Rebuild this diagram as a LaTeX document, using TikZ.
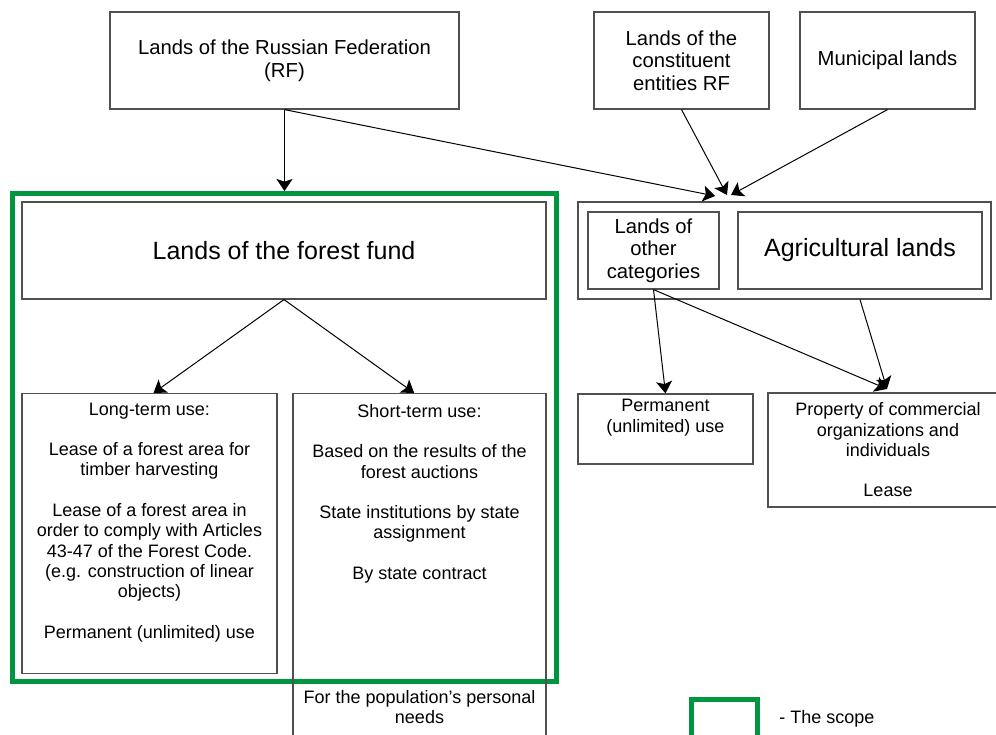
\documentclass[tikz,border=0pt]{standalone}
\usepackage{fontspec}
\setmainfont{Liberation Sans}
\usetikzlibrary{arrows.meta}
\definecolor{scopegreen}{RGB}{0,150,64}
\definecolor{boxgray}{RGB}{80,80,80}
\tikzset{
  box/.style={draw=boxgray, line width=0.9pt, align=center, inner sep=0pt,
    font=\fontsize{15.2}{16.9}\selectfont},
  small/.style={font=\fontsize{13.5}{15.2}\selectfont},
  big/.style={font=\fontsize{18.75}{22}\selectfont},
  wh/.style 2 args={minimum width={#1*0.75pt}, minimum height={#2*0.75pt}},
  scopeframe/.style={draw=scopegreen, line width=3.75pt},
  arr/.style={-{Stealth[length=9pt,width=12pt,inset=2pt]}, line width=0.75pt}
}
\begin{document}
\begin{tikzpicture}[x=0.75pt,y=-0.75pt]
\useasboundingbox (0,0) rectangle (996,735);
\clip (0,0) rectangle (996,735);
% top row
\node[box,wh={349}{97}] (rf) at (284.5,60.5) {Lands of the Russian Federation\\(RF)};
\node[box,wh={175}{97}] (subj) at (681.5,60.5) {Lands of the\\constituent\\entities RF};
\node[box,wh={175}{97}] (mun) at (887.5,60.5) {Municipal lands};
% forest fund (the scope)
\node[scopeframe,wh={543.5}{487.5}] (fund) at (284.25,437.25) {};
\node[box,big,wh={524}{97}] (forest) at (284,250.5) {Lands of the forest fund};
\node[box,small,wh={255}{280},anchor=north] (long) at (149.5,393) {Long-term use:\\[15.2pt]
  Lease of a forest area for\\timber harvesting\\[15.2pt]
  Lease of a forest area in\\order to comply with Articles\\43-47 of the Forest Code.\\(e.g. construction of linear\\objects)\\[15.2pt]
  Permanent (unlimited) use\\ \strut};
\node[box,small,minimum width={253*0.75pt},inner ysep=8pt,anchor=north] (short) at (419.5,393) {Short-term use:\\[15.2pt]
  Based on the results of the\\forest auctions\\[15.2pt]
  State institutions by state\\assignment\\[15.2pt]
  By state contract\\[78pt]
  For the population’s personal\\needs\\[20pt] \strut};
% other categories
\node[box,wh={413}{97}] (cat) at (784.5,250.5) {};
\node[box,wh={131}{77}] (other) at (653.5,250.5) {Lands of\\other\\categories};
\node[box,big,wh={244}{77}] (agri) at (860,250.5) {Agricultural lands};
\node[box,small,wh={175}{70}] (perm) at (665.5,429) {Permanent\\(unlimited) use\\ \strut};
\node[box,small,wh={240}{114}] (prop) at (888,450) {Property of commercial\\organizations and\\individuals\\[15.2pt] Lease};
% legend
\node[scopeframe,wh={65.5}{60},anchor=north west] (key) at (689,697) {};
\node[small,inner sep=0pt,anchor=west] (keytext) at (779,719) {- The scope};
% arrows
\coordinate (inA) at (715,196);
\coordinate (inB) at (727,195);
\coordinate (inC) at (731,195);
\coordinate (inD) at (887,389);
\draw[arr] (rf.south) -- (rf.south |- fund.north);
\draw[arr] (rf.south) -- (inA);
\draw[arr] (subj.south) -- (inB);
\draw[arr] (mun.south) -- (inC);
\draw[arr] (forest.south) -- ([xshift=3pt]long.north);
\draw[arr] (forest.south) -- ([xshift=-4pt]short.north);
\draw[arr] (other.south) -- (perm.north);
\draw[arr] (other.south) -- (inD);
\draw[arr] (agri.south |- cat.south) -- (inD);
\end{tikzpicture}
\end{document}
